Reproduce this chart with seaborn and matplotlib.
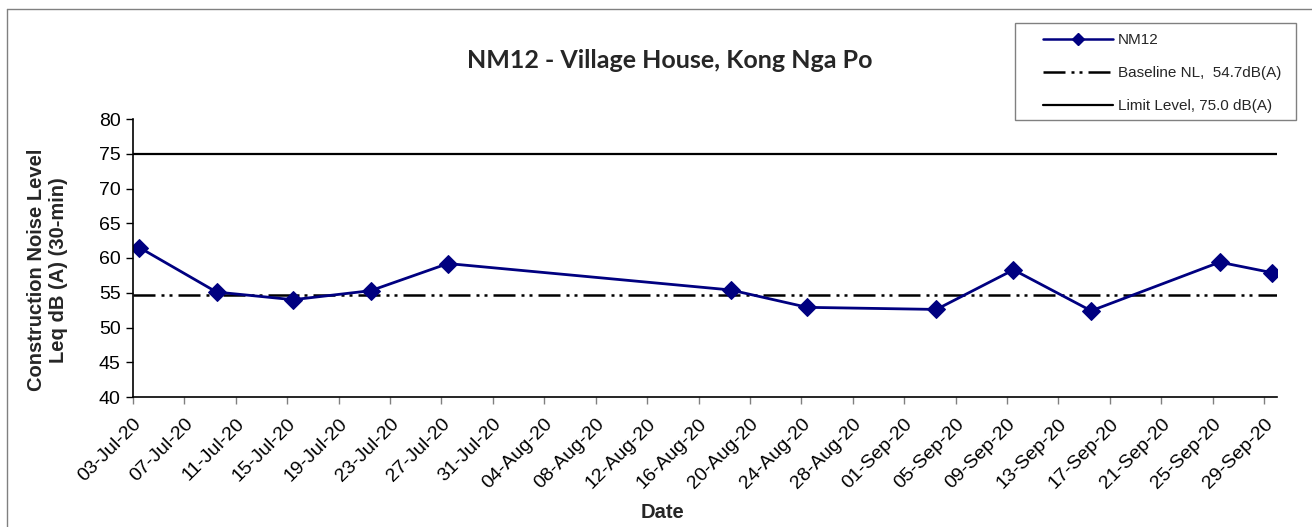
import matplotlib
matplotlib.use("Agg")
import matplotlib.pyplot as plt
import matplotlib.dates as mdates
from matplotlib.lines import Line2D
from matplotlib.patches import Rectangle
import seaborn as sns
import pandas as pd
import numpy as np

dates = ["2020-07-03 12:00", "2020-07-09 12:00", "2020-07-15 11:00", "2020-07-21 12:00",
         "2020-07-27 12:00", "2020-08-18 12:00", "2020-08-24 11:00", "2020-09-03 12:00",
         "2020-09-09 12:00", "2020-09-15 13:00", "2020-09-25 13:00", "2020-09-29 14:00"]
nm12 = [61.5, 55.1, 54.0, 55.3, 59.2, 55.4, 52.9, 52.6, 58.3, 52.4, 59.4, 57.9]
baseline = 54.7
limit = 75.0

title = "NM12 - Village House, Kong Nga Po"
ylabel = "Construction Noise Level\nLeq dB (A) (30-min)"
xlabel = "Date"
legend_labels = ["NM12", "Baseline NL,  54.7dB(A)", "Limit Level, 75.0 dB(A)"]

df = pd.DataFrame({"date": pd.to_datetime(dates), "level": nm12})

sns.set_theme(style="white")
plt.rcParams["font.family"] = ["Liberation Sans", "DejaVu Sans"]

W, H = 1312, 527
fig = plt.figure(figsize=(W/100, H/100), dpi=100)
ax = fig.add_axes([133/W, 1-397/H, (1277-133)/W, (397-119)/H])

xmin = pd.Timestamp("2020-07-03")
xmax = pd.Timestamp("2020-09-30")
dash = (8.8, 2.4, 1.2, 2.0, 1.2, 2.4)

ax.plot([xmin, xmax], [limit, limit], color="black", lw=1.6, solid_capstyle="butt")
ax.plot([xmin, xmax], [baseline, baseline], color="black", lw=1.8, dashes=dash)
sns.lineplot(data=df, x="date", y="level", ax=ax, color="#000080", lw=2.0,
             marker="D", markersize=9, markeredgecolor="#000080", legend=False)

ax.set_xlim(xmin, xmax)
ax.set_ylim(40, 80)
ax.set_yticks(np.arange(40, 81, 5))
ticks = pd.date_range("2020-07-03", "2020-09-29", freq="4D")
ax.set_xticks(ticks)
ax.xaxis.set_major_formatter(mdates.DateFormatter("%d-%b-%y"))
ax.tick_params(axis="both", direction="out", length=5, width=1, color="#808080",
               labelsize=14, labelcolor="black", bottom=True, left=True)
ax.tick_params(axis="y", color="black", pad=4)
ax.tick_params(axis="x", pad=8)
for lab in ax.get_xticklabels():
    lab.set_rotation(45)
    lab.set_ha("right")
    lab.set_va("top")
    lab.set_rotation_mode("anchor")

for s in ["top", "right"]:
    ax.spines[s].set_visible(False)
for s in ["left", "bottom"]:
    ax.spines[s].set_color("black")
    ax.spines[s].set_linewidth(1.2)

ax.set_xlabel(xlabel, fontsize=14.5, fontweight="bold")
ax.set_ylabel(ylabel, fontsize=14.5, fontweight="bold")
ax.xaxis.set_label_coords((662-133)/(1277-133), -(503-397)/(397-119))
ax.yaxis.set_label_coords(-(133-68)/(1277-133), (397-270)/(397-119))

fig.text(670/W, 1-60/H, title, fontsize=18, fontweight="bold",
         ha="center", va="center", family=["Lato", "DejaVu Sans"])

handles = [
    Line2D([], [], color="#000080", lw=1.8, marker="D", markersize=6),
    Line2D([], [], color="black", lw=1.8, dashes=dash),
    Line2D([], [], color="black", lw=1.6),
]
fig.add_artist(Rectangle((1015/W, 1-120/H), 281/W, 97/H, transform=fig.transFigure,
                         facecolor="white", edgecolor="#808080", lw=1.0, zorder=1))
leg = fig.legend(handles, legend_labels, loc="upper left",
                 bbox_to_anchor=(1043/W, 1-33/H), fontsize=11,
                 frameon=False, handlelength=4.6, labelspacing=1.25, borderpad=0,
                 handletextpad=0.3, borderaxespad=0)
leg.set_zorder(2)

# figure border
fig.add_artist(Line2D([7/W, 7/W], [0, 1-9/H], transform=fig.transFigure,
                      color="#808080", lw=1.0))
fig.add_artist(Line2D([7/W, 1.0], [1-9/H, 1-9/H], transform=fig.transFigure,
                      color="#808080", lw=1.0))

fig.savefig("out.png", dpi=100)
